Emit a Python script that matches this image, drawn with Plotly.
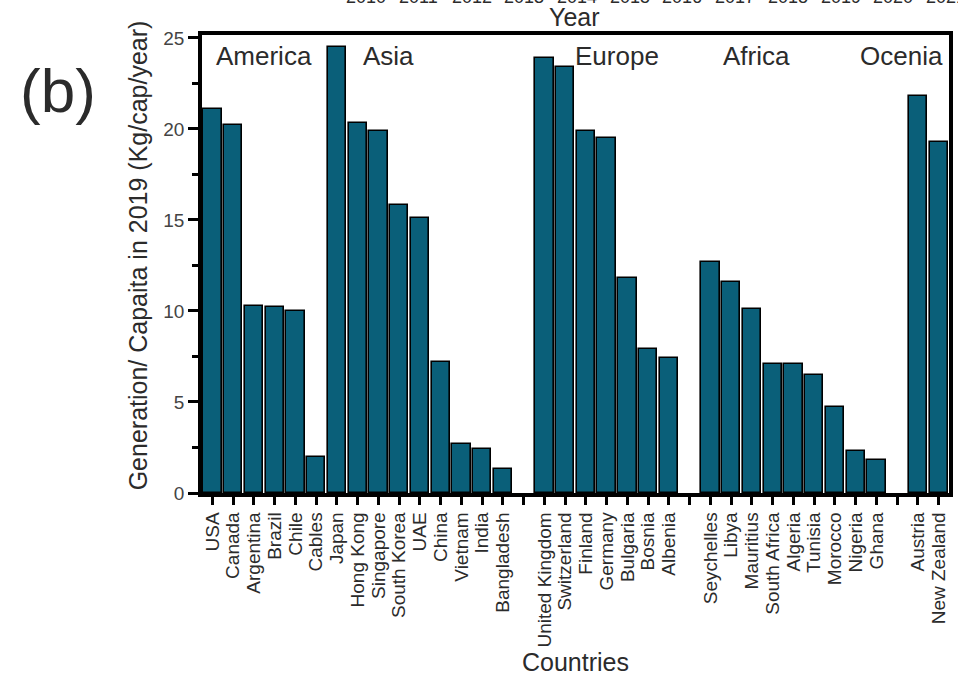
import plotly.graph_objects as go

# Per-capita generation in 2019 (kg/cap/year), grouped by region
america = ["USA", "Canada", "Argentina", "Brazil", "Chile", "Cables"]
america_vals = [21.1, 20.2, 10.3, 10.2, 10.0, 2.0]

asia = ["Japan", "Hong Kong", "Singapore", "South Korea", "UAE", "China",
        "Vietnam", "India", "Bangladesh"]
asia_vals = [24.5, 20.3, 19.9, 15.8, 15.1, 7.2, 2.7, 2.4, 1.3]

europe = ["United Kingdom", "Switzerland", "Finland", "Germany", "Bulgaria",
          "Bosnia", "Albenia"]
europe_vals = [23.9, 23.4, 19.9, 19.5, 11.8, 7.9, 7.4]

africa = ["Seychelles", "Libya", "Mauritius", "South Africa", "Algeria",
          "Tunisia", "Morocco", "Nigeria", "Ghana"]
africa_vals = [12.7, 11.6, 10.1, 7.1, 7.1, 6.5, 4.7, 2.3, 1.8]

oceania = ["Austria", "New Zealand"]
oceania_vals = [21.8, 19.3]

region_labels = ["America", "Asia", "Europe", "Africa", "Ocenia"]
years = [str(y) for y in range(2010, 2022)]

# America and Asia sit side by side; an empty slot separates the rest
groups = [(america, america_vals, False), (asia, asia_vals, True),
          (europe, europe_vals, True), (africa, africa_vals, True),
          (oceania, oceania_vals, False)]

xs, ys, tick_vals, tick_text = [], [], [], []
pos = 0
for names, vals, gap_after in groups:
    for n, v in zip(names, vals):
        xs.append(pos)
        ys.append(v)
        tick_vals.append(pos)
        tick_text.append(n)
        pos += 1
    if gap_after:
        tick_vals.append(pos)
        tick_text.append("")
        pos += 1
n_slots = pos

FONT = "Arial, Liberation Sans, sans-serif"
TXT = "#2b2b2b"

# plot box in pixels, used to place the free-standing texts
L, R, T, B = 202, 5, 35, 194
PW, PH = 958 - L - R, 687 - T - B


def px(x):
    return (x - L) / PW


def py(y):
    return (687 - B - y) / PH


fig = go.Figure(go.Bar(
    x=xs, y=ys, width=0.88,
    marker=dict(color="#0a5f79", line=dict(color="black", width=1.6)),
))

# region names inside the frame
label_x = [2.5, 8.5, 19.5, 26.2, 33.2]
for name, lx in zip(region_labels, label_x):
    fig.add_annotation(x=lx, y=24.0, xref="x", yref="y", text=name,
                       showarrow=False, xanchor="center", yanchor="middle",
                       font=dict(family=FONT, size=26, color=TXT))

# panel tag
fig.add_annotation(x=px(57), y=py(90), xref="paper", yref="paper", text="(b)",
                   showarrow=False, xanchor="center", yanchor="middle",
                   font=dict(family=FONT, size=62, color=TXT))

# y axis title
fig.add_annotation(x=px(138), y=py(255), xref="paper", yref="paper",
                   text="Generation/ Capaita in 2019 (Kg/cap/year)",
                   textangle=-90, showarrow=False,
                   xanchor="center", yanchor="middle",
                   font=dict(family=FONT, size=25, color=TXT))

# axis title and tick row of the panel above (cut by the page edge)
fig.add_annotation(x=px(576), y=py(17), xref="paper", yref="paper",
                   text="Year", showarrow=False,
                   xanchor="center", yanchor="middle",
                   font=dict(family=FONT, size=25, color=TXT))
for i, yr in enumerate(years):
    fig.add_annotation(x=px(367 + 53 * i), y=py(-3), xref="paper",
                       yref="paper", text=yr, showarrow=False,
                       xanchor="center", yanchor="middle",
                       font=dict(family=FONT, size=18, color=TXT))

fig.update_layout(
    width=958, height=687,
    margin=dict(l=L, r=R, t=T, b=B),
    plot_bgcolor="white", paper_bgcolor="white",
    showlegend=False, bargap=0,
    font=dict(family=FONT, color=TXT),
    xaxis=dict(
        range=[-0.5, n_slots - 0.5],
        tickmode="array", tickvals=tick_vals, ticktext=tick_text,
        tickangle=-90, tickfont=dict(size=19, color=TXT),
        ticks="outside", ticklen=8, tickwidth=3, tickcolor="black",
        showline=True, linewidth=3.5, linecolor="black", mirror=True,
        showgrid=False, zeroline=False,
        title=dict(text="Countries", font=dict(size=25, color=TXT), standoff=4),
    ),
    yaxis=dict(
        range=[0, 25.16], tickmode="array", tickvals=[0, 5, 10, 15, 20, 25],
        tickfont=dict(size=19, color="#444"),
        ticks="outside", ticklen=10, tickwidth=3, tickcolor="black",
        minor=dict(tickmode="array", tickvals=[2.5, 7.5, 12.5, 17.5, 22.5],
                   ticks="outside", ticklen=6, tickwidth=3, tickcolor="black"),
        showline=True, linewidth=3.5, linecolor="black", mirror=True,
        showgrid=False, zeroline=False,
    ),
)

fig.write_html("out.html")
